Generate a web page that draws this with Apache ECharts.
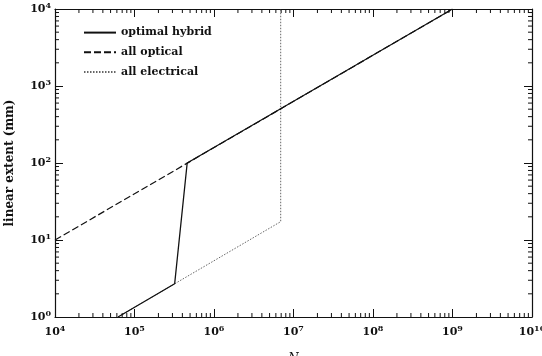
<!DOCTYPE html>
<html>
<head>
<meta charset="utf-8">
<script src="https://cdn.jsdelivr.net/npm/echarts@6/dist/echarts.min.js"></script>
<style>
  html, body { margin: 0; padding: 0; background: #fff; }
  #chart { width: 542px; height: 356px; }
</style>
</head>
<body>
<div id="chart"></div>
<script>
// values, N on x, linear extent (mm) on y
var optimalHybrid = [[6.2e4, 1], [3.2e5, 2.7], [4.6e5, 100], [1e9, 10000]];
var allOptical = [[1e4, 10], [1e9, 10000]];
var allElectrical = [[6.2e4, 1], [6.9e6, 17.3], [6.9e6, 10000]];

var xRange = [1e4, 1e10];
var yRange = [1, 1e4];

// minor ticks 2..9 x 10^k
var xMinor = [];
for (var k = 4; k < 10; k++) {
    for (var m = 2; m <= 9; m++) xMinor.push(m * Math.pow(10, k));
}
var yMinor = [];
for (var k = 0; k < 4; k++) {
    for (var m = 2; m <= 9; m++) yMinor.push(m * Math.pow(10, k));
}

var fontFam = 'DejaVu Serif';
var ink = '#111';

function powLabel(v) {
    var e = Math.round(Math.log(v) / Math.LN10);
    return '{b|10}{e|' + e + '}';
}
var richPow = {
    b: { fontFamily: fontFam, fontSize: 11, fontWeight: 'bold', color: ink },
    e: { fontFamily: fontFam, fontSize: 8, fontWeight: 'bold', color: ink, verticalAlign: 'bottom', padding: [0, 0, 6, 0] }
};

var dom = document.getElementById('chart');
var myChart = echarts.init(dom);

function baseAxis(extra) {
    var a = {
        type: 'log',
        logBase: 10,
        axisLine: { show: true, onZero: false, lineStyle: { color: ink, width: 1.2 } },
        axisTick: { show: true, inside: true, length: 8, lineStyle: { color: ink } },
        splitLine: { show: false },
        minorTick: { show: false }
    };
    for (var key in extra) a[key] = extra[key];
    return a;
}

option = {
    animation: false,
    backgroundColor: '#fff',
    grid: { left: 55, right: 10, top: 9, bottom: 39, outerBoundsMode: 'none', containLabel: false },
    legend: {
        left: 83,
        top: 27,
        padding: 0,
        orient: 'vertical',
        itemWidth: 32,
        itemHeight: 14,
        itemGap: 8.5,
        itemStyle: { opacity: 0 },
        textStyle: { fontFamily: fontFam, fontSize: 11, fontWeight: 'bold', color: ink },
        data: ['optimal hybrid', 'all optical', 'all electrical']
    },
    xAxis: [
        baseAxis({
            min: xRange[0], max: xRange[1], interval: 1, position: 'bottom',
            name: 'N', nameLocation: 'middle', nameGap: 36,
            nameTextStyle: { fontFamily: fontFam, fontSize: 12, color: ink, fontStyle: 'italic' },
            axisLabel: { formatter: powLabel, rich: richPow, margin: 8 }
        }),
        baseAxis({
            min: xRange[0], max: xRange[1], interval: 1, position: 'top',
            axisLabel: { show: false }
        })
    ],
    yAxis: [
        baseAxis({
            min: yRange[0], max: yRange[1], interval: 1, position: 'left',
            name: 'linear extent (mm)', nameLocation: 'middle', nameGap: 39,
            nameTextStyle: { fontFamily: fontFam, fontSize: 12, fontWeight: 'bold', color: ink },
            axisLabel: { formatter: powLabel, rich: richPow, margin: 4 }
        }),
        baseAxis({
            min: yRange[0], max: yRange[1], interval: 1, position: 'right',
            axisLabel: { show: false }
        })
    ],
    series: [
        {
            name: 'all optical',
            type: 'line',
            data: allOptical,
            symbol: 'none',
            lineStyle: { color: ink, width: 1.2, type: [7, 3] },
            itemStyle: { color: ink },
            z: 3
        },
        {
            name: 'all electrical',
            type: 'line',
            data: allElectrical,
            symbol: 'none',
            lineStyle: { color: '#666', width: 1, type: [1.5, 1.5] },
            itemStyle: { color: ink },
            z: 2
        },
        {
            name: 'optimal hybrid',
            type: 'line',
            data: optimalHybrid,
            symbol: 'none',
            lineStyle: { color: ink, width: 1.3, type: 'solid' },
            itemStyle: { color: ink },
            z: 4
        },
        {
            name: 'xminor',
            type: 'custom',
            silent: true,
            clip: false,
            data: xMinor,
            renderItem: function (params, api) {
                var v = api.value(0);
                var b = api.coord([v, yRange[0]]);
                var t = api.coord([v, yRange[1]]);
                var st = { stroke: ink, lineWidth: 1 };
                return {
                    type: 'group',
                    children: [
                        { type: 'line', shape: { x1: b[0], y1: b[1], x2: b[0], y2: b[1] - 4 }, style: st },
                        { type: 'line', shape: { x1: t[0], y1: t[1], x2: t[0], y2: t[1] + 4 }, style: st }
                    ]
                };
            },
            encode: { x: 0 }
        },
        {
            name: 'yminor',
            type: 'custom',
            silent: true,
            clip: false,
            data: yMinor.map(function (v) { return [xRange[0], v]; }),
            renderItem: function (params, api) {
                var v = api.value(1);
                var l = api.coord([xRange[0], v]);
                var r = api.coord([xRange[1], v]);
                var st = { stroke: ink, lineWidth: 1 };
                return {
                    type: 'group',
                    children: [
                        { type: 'line', shape: { x1: l[0], y1: l[1], x2: l[0] + 4, y2: l[1] }, style: st },
                        { type: 'line', shape: { x1: r[0], y1: r[1], x2: r[0] - 4, y2: r[1] }, style: st }
                    ]
                };
            }
        }
    ]
};

if (option && typeof option === "object") {
    myChart.setOption(option, true);
}
</script>
</body>
</html>
